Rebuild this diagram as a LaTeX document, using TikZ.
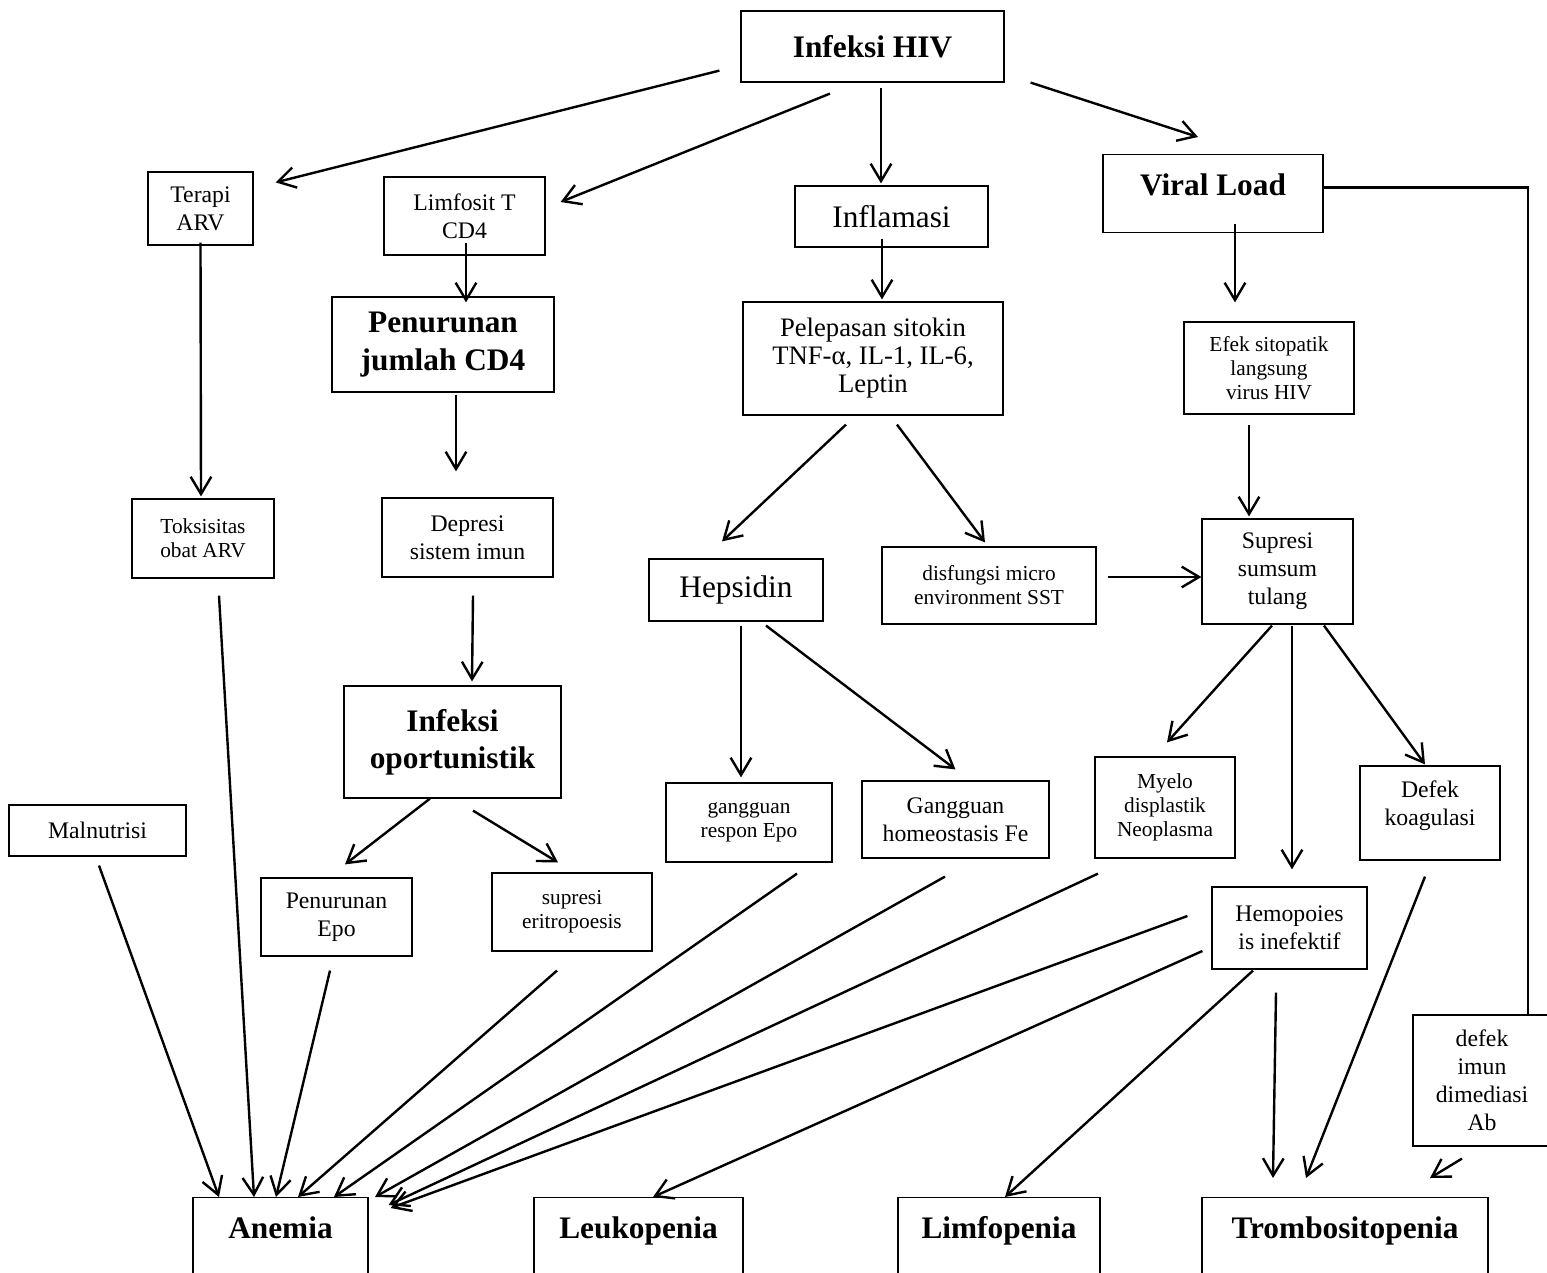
\documentclass[tikz,border=0pt]{standalone}
\usepackage{fontspec}
\setmainfont{Liberation Serif}
\usetikzlibrary{arrows.meta,calc}

\tikzset{
  box/.style={draw,line width=0.9pt,align=center,inner sep=0pt},
  wh/.style 2 args={minimum width=#1*0.75pt,minimum height=#2*0.75pt},
  topbox/.style={inner ysep=0pt,text height=30.75pt,text depth=#1,anchor=north},
  txtbf/.style={font=\fontsize{23.5}{28}\selectfont\bfseries},
  txtbig/.style={font=\fontsize{23.5}{28}\selectfont},
  txtmid/.style={font=\fontsize{20}{21}\selectfont},
  txtnorm/.style={font=\fontsize{17.8}{21}\selectfont},
  txtsmall/.style={font=\fontsize{16}{18}\selectfont},
  arr/.style={line width=1.8pt,-{Straight Barb[length=13pt,width=15.5pt]}},
}

\begin{document}
\begin{tikzpicture}[x=0.75pt,y=0.75pt,yscale=-1,xscale=1]
  \useasboundingbox (0,0) rectangle (1547,1273);

  \node[box,txtbf,wh={263}{71}] (hiv) at (872.5,46.5) {Infeksi HIV};
  \node[box,txtnorm,wh={105}{73}] (arv) at (200.5,208.5) {Terapi\\ARV};
  \node[box,txtnorm,wh={161}{78}] (cd4) at (464.5,216) {Limfosit T\\CD4};
  \node[box,txtbig,wh={193}{61}] (inflam) at (891.5,216.5) {Inflamasi};
  \node[box,txtbf,wh={220}{0},topbox=27.75pt] (viral) at (1213,154) {Viral Load};
  \node[box,txtbf,wh={222}{95}] (turun) at (443,344.5) {Penurunan\\jumlah CD4};
  \node[box,txtmid,wh={260}{113}] (sitokin) at (873,358.5) {Pelepasan sitokin\\TNF-α, IL-1, IL-6,\\Leptin};
  \node[box,txtsmall,wh={170}{92}] (efek) at (1269,368) {Efek sitopatik\\langsung\\virus HIV};
  \node[box,txtsmall,wh={142}{79}] (toks) at (203,538.5) {Toksisitas\\obat ARV};
  \node[box,txtnorm,wh={171}{79}] (depresi) at (467.5,537.5) {Depresi\\sistem imun};
  \node[box,txtbig,wh={174}{62}] (hepsidin) at (736,590) {Hepsidin};
  \node[box,txtsmall,wh={214}{77}] (disf) at (989,585.5) {disfungsi micro\\environment SST};
  \node[box,txtnorm,wh={151}{105}] (sumsum) at (1277.5,571.5) {Supresi\\sumsum\\tulang};
  \node[box,txtbf,wh={217}{112}] (oport) at (452.5,742) {Infeksi\\oportunistik};
  \node[box,txtsmall,wh={166}{79}] (respon) at (749,822.5) {gangguan\\respon Epo};
  \node[box,txtnorm,wh={187}{77}] (fe) at (955.5,819.5) {Gangguan\\homeostasis Fe};
  \node[box,txtsmall,wh={140}{101}] (myelo) at (1165,807.5) {Myelo\\displastik\\Neoplasma};
  \node[box,txtnorm,wh={140}{94},text depth=14.5pt] (koag) at (1430,813) {Defek\\koagulasi};
  \node[box,txtnorm,wh={177}{51}] (malnut) at (97.5,830.5) {Malnutrisi};
  \node[box,txtnorm,wh={151}{78}] (epo) at (336.5,917) {Penurunan\\Epo};
  \node[box,txtsmall,wh={160}{78}] (eritro) at (572,912) {supresi\\eritropoesis};
  \node[box,txtnorm,wh={155}{82}] (hemo) at (1289.5,928) {Hemopoies\\is inefektif};
  \node[box,txtnorm,wh={138}{131}] (imun) at (1482,1080.5) {defek\\imun\\dimediasi\\Ab};
  \node[box,txtbf,wh={175}{0},topbox=52.5pt] (anemia) at (280.5,1197) {Anemia};
  \node[box,txtbf,wh={209}{0},topbox=52.5pt] (leuko) at (638.5,1197) {Leukopenia};
  \node[box,txtbf,wh={202}{0},topbox=52.5pt] (limfo) at (999,1197) {Limfopenia};
  \node[box,txtbf,wh={286}{0},topbox=52.5pt] (trombo) at (1345,1197) {Trombositopenia};

  \draw[arr] ($(hiv.south west)+(-21,-12)$) -- ($(arv.north east)+(22,11)$);
  \draw[arr] ($(hiv.south)+(-42.5,11)$) -- ($(cd4.east)+(15,-14)$);
  \draw[arr] ($(hiv.south)+(8.5,5)$) -- ($(inflam.north)+(-10.5,-2)$);
  \draw[arr] ($(hiv.south east)+(26,0)$) -- ($(viral.north)+(-15,-17)$);
  \draw[arr] ($(arv.south)+(0,-3)$) -- ($(toks.north)+(-2,-2)$);
  \draw[arr] ($(cd4.south)+(1.5,-13)$) -- ($(turun.north)+(23,6)$);
  \draw[arr] ($(turun.south)+(13,2)$) -- ($(depresi.north)+(-11.5,-26)$);
  \draw[arr] ($(depresi.south)+(5.5,18)$) -- ($(oport.north)+(19.5,-4)$);
  \draw[arr] ($(oport.south)+(-22.5,0)$) -- ($(epo.north)+(8.5,-13)$);
  \draw[arr] ($(oport.south)+(20.5,12)$) -- ($(eritro.north)+(-14,-10)$);
  \draw[arr] ($(inflam.south)+(-9.5,-9)$) -- ($(sitokin.north)+(9,-2)$);
  \draw[arr] ($(sitokin.south)+(-27,9)$) -- ($(hepsidin.north)+(-14,-17)$);
  \draw[arr] ($(sitokin.south)+(24,9)$) -- ($(disf.north)+(-4,-4)$);
  \draw[arr] ($(viral.south)+(22,-9)$) -- ($(efek.north)+(-34,-19)$);
  \draw[arr] ($(efek.south)+(-20,10)$) -- ($(sumsum.north)+(-28.5,-2)$);
  \draw[arr] ($(disf.east)+(11,-8.5)$) -- ($(sumsum.west)+(0,5.5)$);
  \draw[arr] ($(sumsum.south)+(-5.5,1)$) -- ($(myelo.north)+(2,-14)$);
  \draw[arr] ($(sumsum.south)+(14.5,1)$) -- ($(hemo.north)+(2.5,-17)$);
  \draw[arr] ($(sumsum.south)+(46.5,1)$) -- ($(koag.north)+(-5,-1)$);
  \draw[arr] ($(hepsidin.south)+(5,4)$) -- ($(respon.north)+(-8,-5)$);
  \draw[arr] ($(hepsidin.south)+(30,4)$) -- ($(fe.north)+(0,-11)$);
  \draw[line width=1.8pt] ($(viral.east)+(0,-6)$) -| ($(imun.north)+(46,0)$);

  \draw[arr] ($(malnut.south)+(1.5,9)$) -- ($(anemia.north)+(-61.5,0)$);
  \draw[arr] ($(toks.south)+(16,17)$) -- ($(anemia.north)+(-26.5,0)$);
  \draw[arr] ($(epo.south)+(-6.5,14)$) -- ($(anemia.north)+(-4.5,0)$);
  \draw[arr] ($(eritro.south)+(-15,19)$) -- ($(anemia.north)+(17.5,0)$);
  \draw[arr] ($(respon.south)+(48,11)$) -- ($(anemia.north)+(53.5,0)$);
  \draw[arr] ($(fe.south)+(-10.5,18)$) -- ($(anemia.north)+(94.5,0)$);
  \draw[arr] ($(myelo.south)+(-67,15)$) -- ($(anemia.north east)+(20,8)$);
  \draw[arr] ($(hemo.west)+(-24,-12)$) -- ($(anemia.north east)+(22,11)$);
  \draw[arr] ($(hemo.west)+(-9,23)$) -- ($(leuko.north)+(14.5,0)$);
  \draw[arr] ($(hemo.south)+(-36.5,1)$) -- ($(limfo.north)+(6,0)$);
  \draw[arr] ($(hemo.south)+(-13.5,23)$) -- ($(trombo.north)+(-72,-19)$);
  \draw[arr] ($(koag.south)+(-5,16)$) -- ($(trombo.north)+(-39,-19)$);
  \draw[arr] ($(imun.south)+(-20,12)$) -- ($(trombo.north)+(85,-19)$);
\end{tikzpicture}
\end{document}
